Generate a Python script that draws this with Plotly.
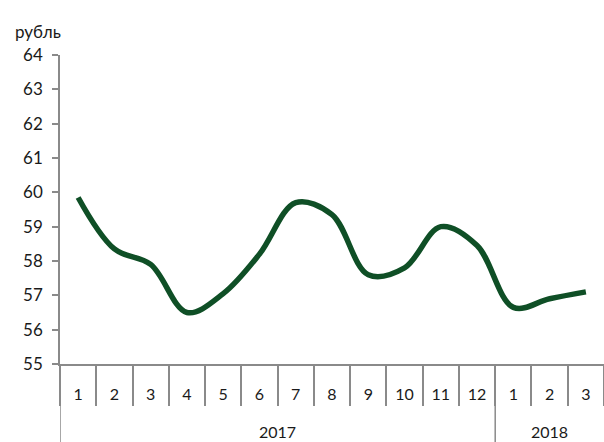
import plotly.graph_objects as go

years = ["2017"] * 12 + ["2018"] * 3
months = ["1", "2", "3", "4", "5", "6", "7", "8", "9", "10", "11", "12", "1", "2", "3"]
rub = [59.85, 58.35, 57.9, 56.5, 57.05, 58.2, 59.7, 59.35, 57.6, 57.8, 59.0, 58.45, 56.65, 56.9, 57.1]
y_ticks = list(range(55, 65))

FONT = "Lato"
GRAY = "#8a8a8a"
TXT = "#1a1a1a"

n = len(months)
idx = list(range(n))
boundaries = [i - 0.5 for i in range(n + 1)]

# year groups from the category lists
groups = []
for i, yr in enumerate(years):
    if not groups or groups[-1][0] != yr:
        groups.append([yr, i, i])
    else:
        groups[-1][2] = i

MT, MB = 55, 78
PH = 442 - MT - MB

fig = go.Figure()
fig.add_trace(go.Scatter(
    x=idx, y=rub, mode="lines",
    line=dict(color="#0f4f26", width=5.5, shape="spline", smoothing=1.0),
    hoverinfo="skip", showlegend=False,
))

shapes = []
annotations = []
for yr, a, b in groups:
    shapes.append(dict(type="line", xref="x", yref="paper", x0=a - 0.5, x1=a - 0.5,
                       y0=0, y1=-MB / PH, line=dict(color=GRAY, width=1.5)))
    annotations.append(dict(text=yr, xref="x", yref="paper", x=(a + b) / 2, y=-67 / PH,
                            xanchor="center", yanchor="middle", showarrow=False,
                            font=dict(family=FONT, size=16, color=TXT)))

annotations.append(dict(
    text="рубль", xref="paper", yref="paper", x=-60 / 544 + 13 / 544, y=1 + 23 / PH,
    xanchor="left", yanchor="middle", showarrow=False,
    font=dict(family=FONT, size=17, color=TXT),
))

fig.update_layout(
    width=604, height=442,
    margin=dict(l=60, r=0, t=MT, b=MB),
    paper_bgcolor="white", plot_bgcolor="white",
    font=dict(family=FONT, size=16, color=TXT),
    showlegend=False,
    xaxis=dict(
        range=[-0.5, n - 0.5], tickvals=idx, ticktext=months,
        showline=True, linecolor=GRAY, linewidth=1.5,
        ticks="", ticklabelstandoff=15,
        minor=dict(tickvals=boundaries, ticks="outside", ticklen=40, tickcolor=GRAY, tickwidth=1.5),
        showgrid=False, zeroline=False,
        tickfont=dict(family=FONT, size=16, color=TXT),
    ),
    yaxis=dict(
        range=[55, 64], tickvals=y_ticks, ticktext=[str(v) for v in y_ticks],
        showline=True, linecolor=GRAY, linewidth=1.5,
        ticks="outside", ticklen=6, tickcolor=GRAY, tickwidth=1.5,
        ticklabelstandoff=6,
        showgrid=False, zeroline=False,
        tickfont=dict(family=FONT, size=17, color=TXT),
    ),
    shapes=shapes,
    annotations=annotations,
)

fig.write_html(
    "out.html",
    config={"displayModeBar": False},
    post_script="document.body.style.margin='0';document.body.style.padding='0';document.body.style.overflow='hidden';",
)
